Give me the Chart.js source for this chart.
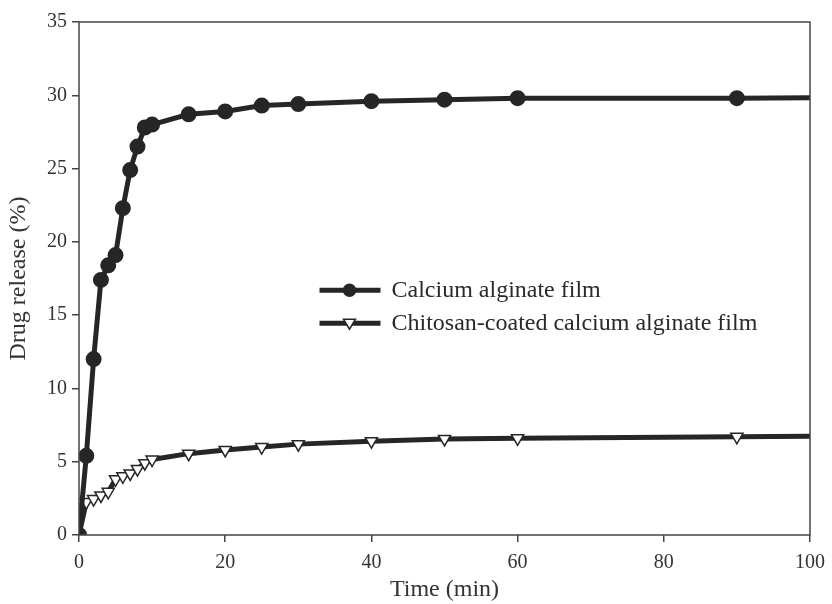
<!DOCTYPE html>
<html>
<head>
<meta charset="utf-8">
<script src="https://cdn.jsdelivr.net/npm/chart.js@4/dist/chart.umd.min.js"></script>
<style>
  html, body { margin: 0; padding: 0; background: #fff; }
  #wrap { width: 832px; height: 604px; }
</style>
</head>
<body>
<div id="wrap"><canvas id="chart" width="832" height="604"></canvas></div>
<script>
// time points in minutes (the last one runs past the axis end)
const times = [0, 1, 2, 3, 4, 5, 6, 7, 8, 9, 10, 15, 20, 25, 30, 40, 50, 60, 90, 120];
const alginate = [0, 5.4, 12.0, 17.4, 18.4, 19.1, 22.3, 24.9, 26.5, 27.8, 28.0, 28.7, 28.9, 29.3, 29.4, 29.6, 29.7, 29.8, 29.8, 29.9];
const coated = [0, 2.25, 2.45, 2.7, 2.95, 3.8, 4.0, 4.2, 4.5, 4.9, 5.15, 5.55, 5.8, 6.0, 6.2, 6.4, 6.55, 6.6, 6.7, 6.8];
const seriesNames = ["Calcium alginate film", "Chitosan-coated calcium alginate film"];
const xTicks = [0, 20, 40, 60, 80, 100];
const yTicks = [0, 5, 10, 15, 20, 25, 30, 35];

const ink = "#262626";
const serif = "'Liberation Serif', 'Times New Roman', serif";

const toPoints = (values) => times.map((t, i) => ({ x: t, y: values[i] }));

// frame round the plot and the legend inside it
const framePlugin = {
  id: "frame",
  afterDatasetsDraw(chart) {
    const { ctx, chartArea } = chart;
    ctx.save();
    ctx.strokeStyle = "#444";
    ctx.lineWidth = 1.5;
    ctx.strokeRect(chartArea.left, chartArea.top, chartArea.right - chartArea.left, chartArea.bottom - chartArea.top);

    const x0 = chart.scales.x.getPixelForValue(32.9);
    const rows = [chart.scales.y.getPixelForValue(16.7), chart.scales.y.getPixelForValue(14.45)];
    chart.data.datasets.forEach((ds, i) => {
      const y = rows[i];
      ctx.strokeStyle = ink;
      ctx.lineWidth = 5;
      ctx.beginPath();
      ctx.moveTo(x0, y);
      ctx.lineTo(x0 + 61, y);
      ctx.stroke();
      ctx.lineWidth = 1.5;
      ctx.fillStyle = ds.pointBackgroundColor;
      ctx.strokeStyle = ink;
      ctx.beginPath();
      if (i === 0) {
        ctx.arc(x0 + 30, y, 6, 0, Math.PI * 2);
      } else {
        ctx.moveTo(x0 + 24, y - 4);
        ctx.lineTo(x0 + 36, y - 4);
        ctx.lineTo(x0 + 30, y + 6);
        ctx.closePath();
      }
      ctx.fill();
      ctx.stroke();
      ctx.fillStyle = "#2a2a2a";
      ctx.font = "24px " + serif;
      ctx.textBaseline = "middle";
      ctx.fillText(ds.label, x0 + 72, y);
    });
    ctx.restore();
  },
};

new Chart(document.getElementById("chart"), {
  type: "line",
  data: {
    datasets: [
      {
        label: seriesNames[0],
        data: toPoints(alginate),
        borderColor: ink,
        borderWidth: 5,
        pointRadius: 5.5,
        pointStyle: "circle",
        pointBackgroundColor: ink,
        pointBorderColor: ink,
        tension: 0,
      },
      {
        label: seriesNames[1],
        data: toPoints(coated),
        borderColor: ink,
        borderWidth: 5,
        pointRadius: 7,
        pointStyle: "triangle",
        rotation: 180,
        pointBackgroundColor: "#ffffff",
        pointBorderColor: ink,
        pointBorderWidth: 1.5,
        tension: 0,
      },
    ],
  },
  options: {
    responsive: false,
    animation: false,
    layout: { padding: { top: 22, right: 22, left: 0, bottom: 0 } },
    plugins: { legend: { display: false }, tooltip: { enabled: false } },
    scales: {
      x: {
        type: "linear",
        min: 0,
        max: 100,
        afterBuildTicks: (scale) => { scale.ticks = xTicks.map((v) => ({ value: v })); },
        afterFit: (scale) => { scale.height = 69; scale.paddingRight = 0; scale.paddingLeft = 0; },
        grid: { drawOnChartArea: false, tickLength: 7, color: "#444", lineWidth: 1.5 },
        border: { display: false },
        ticks: { color: "#333", font: { family: serif, size: 20 }, padding: 9, maxRotation: 0 },
        title: { display: true, text: "Time (min)", color: "#333", font: { family: serif, size: 24 }, padding: { top: 0, bottom: 0 } },
      },
      y: {
        type: "linear",
        min: 0,
        max: 35,
        afterBuildTicks: (scale) => { scale.ticks = yTicks.map((v) => ({ value: v })); },
        afterFit: (scale) => { scale.width = 79; },
        grid: { drawOnChartArea: false, tickLength: 7, color: "#444", lineWidth: 1.5 },
        border: { display: false },
        ticks: { color: "#333", font: { family: serif, size: 20 }, padding: 5 },
        title: { display: true, text: "Drug release (%)", color: "#333", font: { family: serif, size: 24 }, padding: { bottom: 2 } },
      },
    },
  },
  plugins: [framePlugin],
});
</script>
</body>
</html>
